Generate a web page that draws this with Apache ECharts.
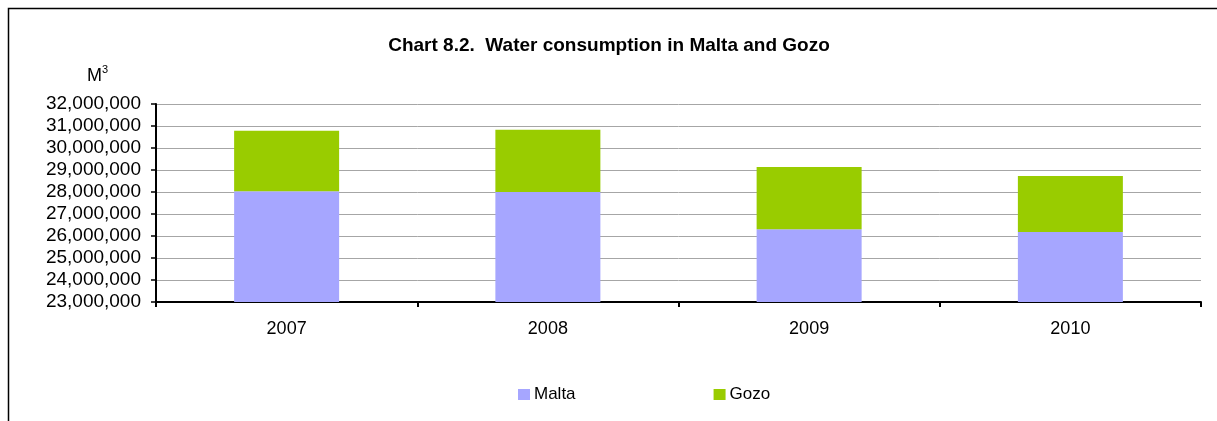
<!DOCTYPE html>
<html>
<head>
<meta charset="utf-8">
<script src="https://cdn.jsdelivr.net/npm/echarts@6/dist/echarts.min.js"></script>
<style>
html,body{margin:0;padding:0;background:#fff;}
#chart{width:1217px;height:421px;}
</style>
</head>
<body>
<div id="chart"></div>
<script>
var categories = ['2007', '2008', '2009', '2010'];
var maltaValues = [28030000, 28000000, 26310000, 26180000];
var gozoValues = [2750000, 2830000, 2830000, 2550000];
var seriesNames = ['Malta', 'Gozo'];
var yMin = 23000000, yMax = 32000000, yStep = 1000000;

function fmt(v) {
  return String(Math.round(v)).replace(/\B(?=(\d{3})+(?!\d))/g, ',');
}

var FONT = 'Liberation Sans, Arial, sans-serif';
var chart = echarts.init(document.getElementById('chart'), null, {renderer: 'canvas'});
chart.setOption({
  animation: false,
  backgroundColor: '#ffffff',
  textStyle: {fontFamily: FONT},
  title: {
    text: 'Chart 8.2.  Water consumption in Malta and Gozo',
    left: 604, textAlign: 'center', top: 31,
    textStyle: {fontSize: 19, fontWeight: 'bold', color: '#000', fontFamily: FONT}
  },
  graphic: [
    {type: 'rect', shape: {x: 8.5, y: 8.5, width: 1300, height: 600}, style: {fill: null, stroke: '#000', lineWidth: 1.5}, silent: true, z: -1},
    {type: 'text', left: 87, top: 64, style: {
      text: '{m|M}{s|3}', rich: {
        m: {fontSize: 18, fill: '#000', fontFamily: FONT, verticalAlign: 'bottom'},
        s: {fontSize: 11, fill: '#000', fontFamily: FONT, verticalAlign: 'top', padding: [0,0,10,0]}
      }
    }}
  ],
  legend: {
    data: seriesNames,
    left: 518, top: 386, padding: 0,
    itemWidth: 12, itemHeight: 11, itemGap: 138,
    icon: 'rect',
    textStyle: {fontSize: 17, color: '#000', padding: [0,0,0,-1]}
  },
  grid: {left: 156, right: 16, top: 104, bottom: 119, containLabel: false},
  xAxis: {
    type: 'category',
    data: categories,
    boundaryGap: true,
    axisLine: {lineStyle: {color: '#000', width: 2}},
    axisTick: {show: true, length: 5, lineStyle: {color: '#000', width: 2}},
    axisLabel: {fontSize: 18, color: '#000', margin: 18}
  },
  yAxis: {
    type: 'value',
    min: yMin, max: yMax, interval: yStep,
    axisLine: {show: true, lineStyle: {color: '#000', width: 2}},
    axisTick: {show: true, length: 5, lineStyle: {color: '#000', width: 1.5}},
    axisLabel: {fontSize: 19, color: '#000', margin: 15, formatter: fmt},
    splitLine: {show: true, lineStyle: {color: '#a6a6a6', width: 1}}
  },
  series: [
    {name: seriesNames[0], type: 'bar', stack: 'total', data: maltaValues, barWidth: 105, itemStyle: {color: '#a6a6ff'}},
    {name: seriesNames[1], type: 'bar', stack: 'total', data: gozoValues, barWidth: 105, itemStyle: {color: '#99cc00'}}
  ]
});
</script>
</body>
</html>
